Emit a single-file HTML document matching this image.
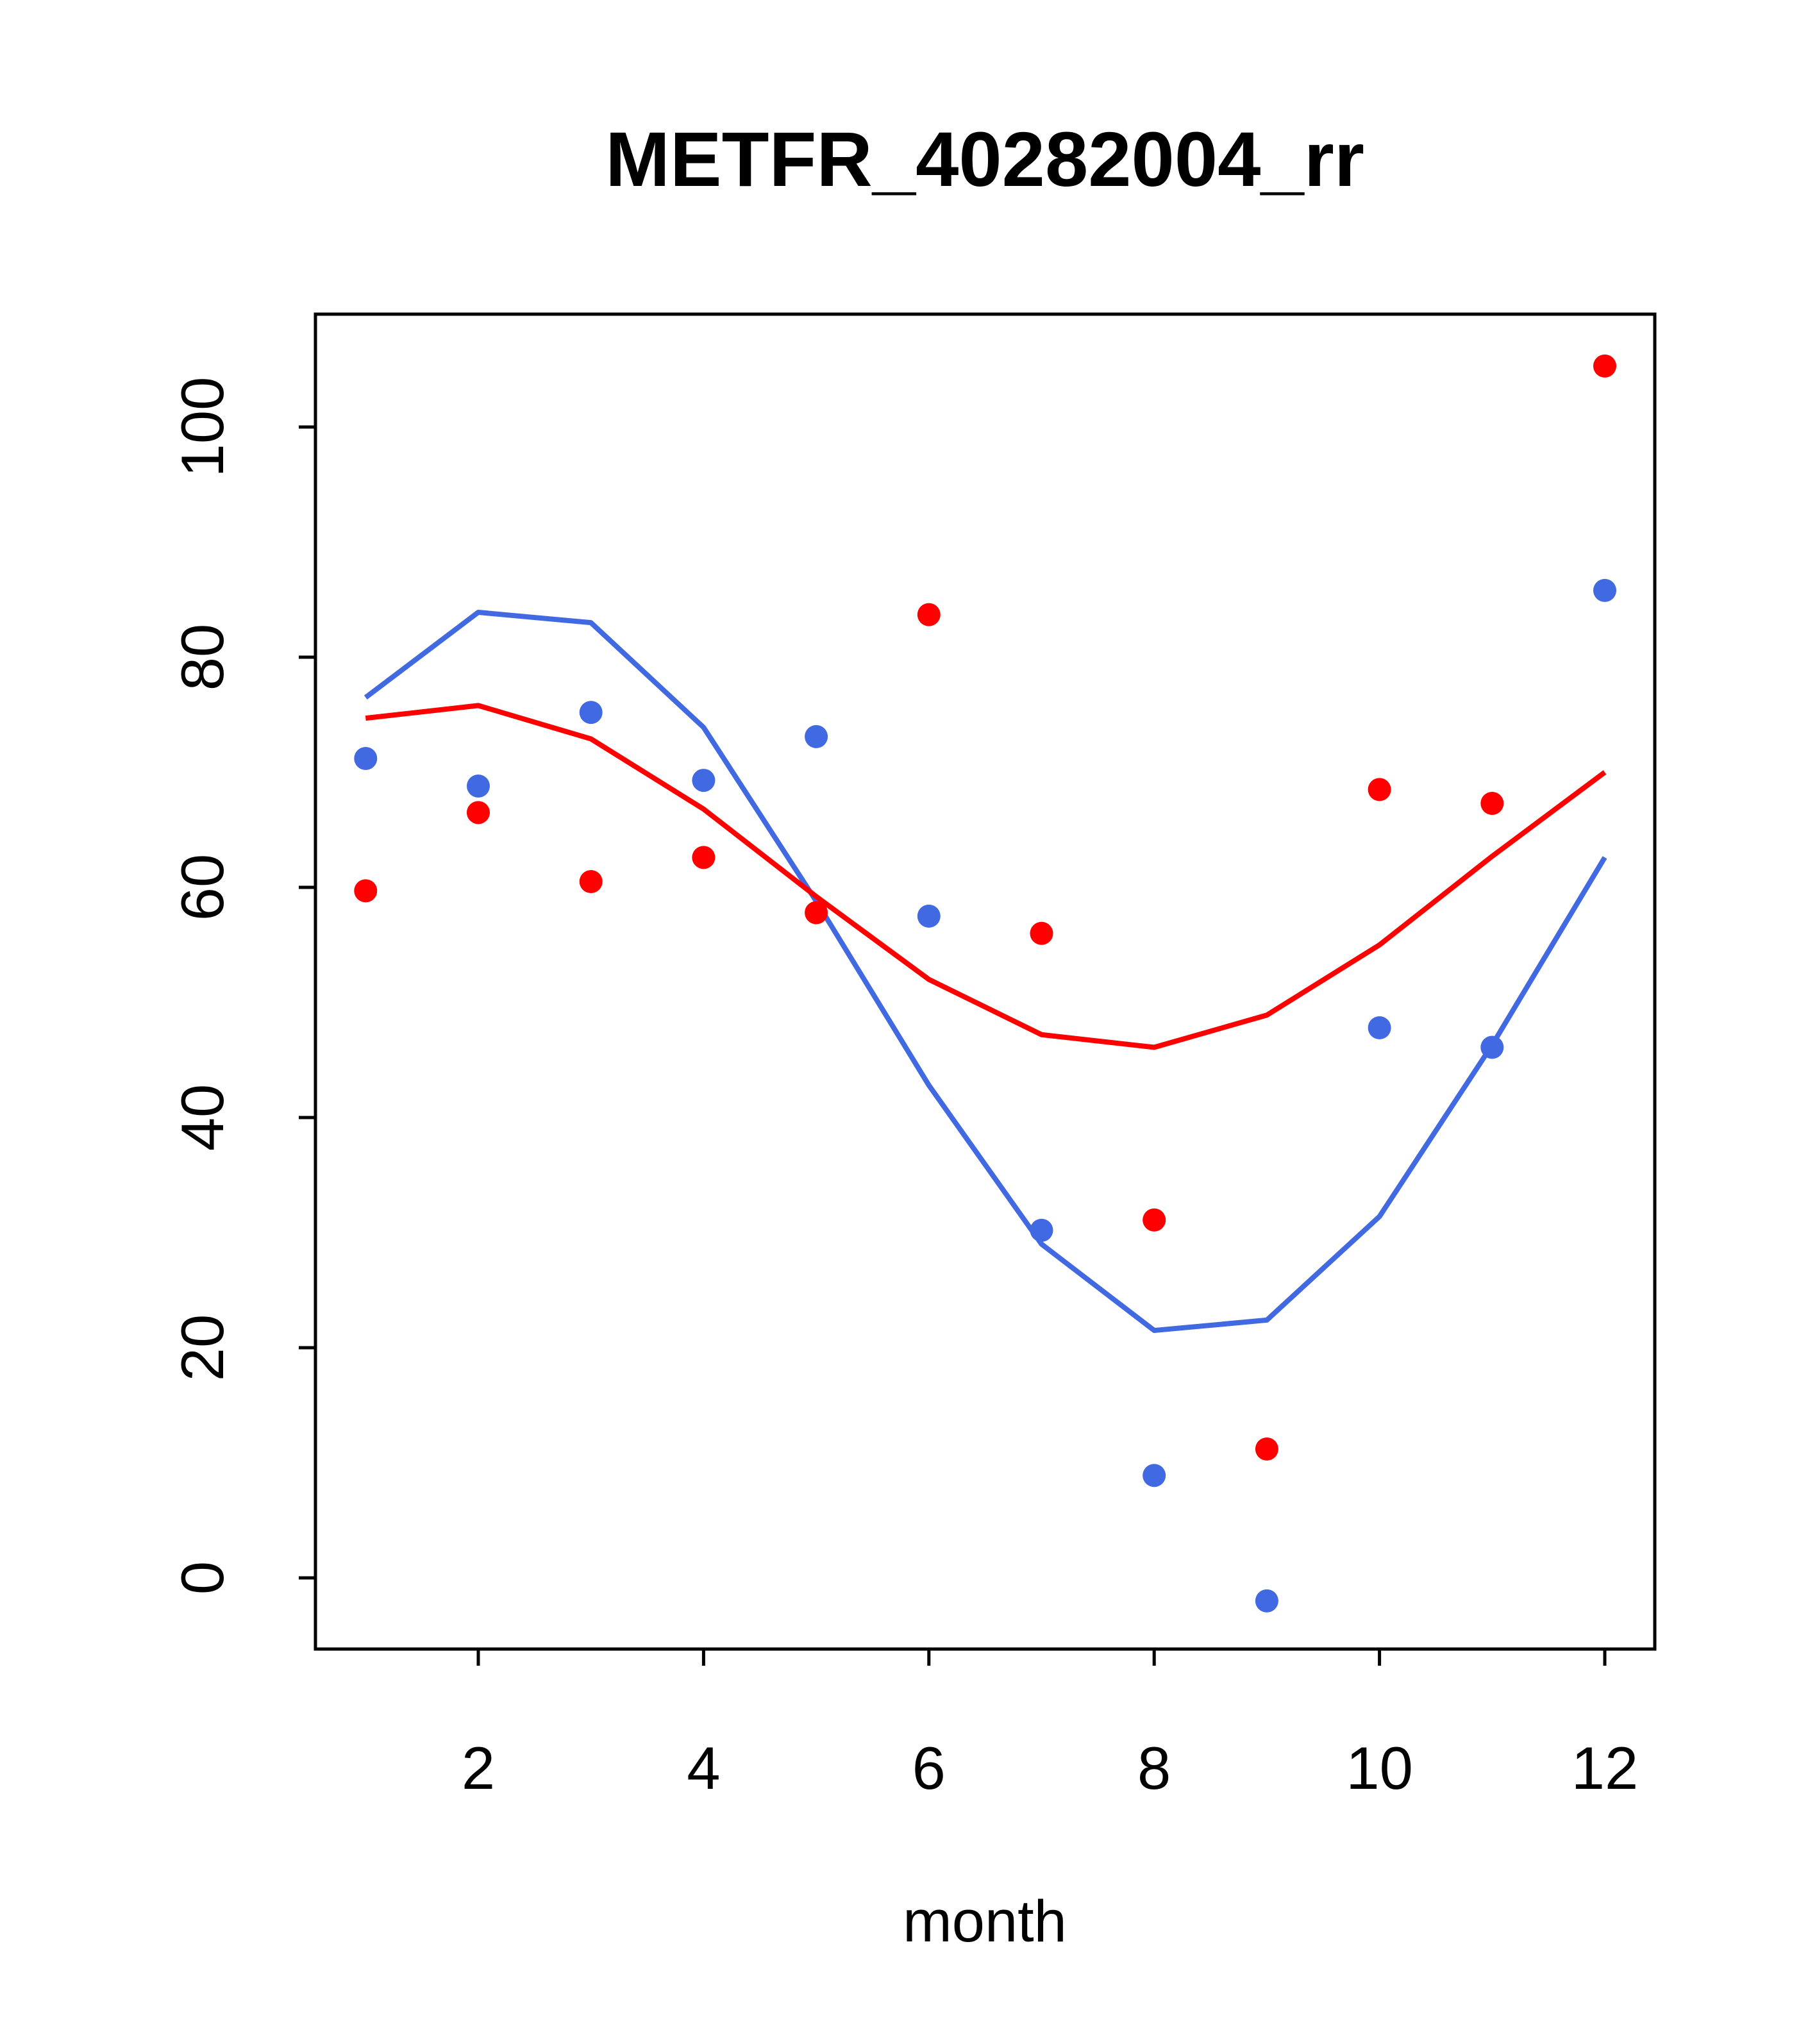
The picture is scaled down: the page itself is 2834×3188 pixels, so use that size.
<!DOCTYPE html>
<html><head><meta charset="utf-8"><style>html,body{margin:0;padding:0;background:#fff}svg{display:block}</style></head>
<body>
<svg id="chart" width="2834" height="3188" xmlns="http://www.w3.org/2000/svg" font-family="Liberation Sans, sans-serif">
<rect width="2834" height="3188" fill="#fff"/>
<text x="1536" y="290" font-size="121" font-weight="bold" text-anchor="middle">METFR_40282004_rr</text>
<rect x="492" y="490" width="2089" height="2082" fill="none" stroke="#000" stroke-width="5"/>
<text x="1536" y="3028" font-size="92" text-anchor="middle">month</text>
<g id="xaxis"></g>
<g id="yaxis"></g>
<g id="series"></g>
</svg>
<script>
const months=[1,2,3,4,5,6,7,8,9,10,11,12];
const redPoints=[59.7,66.5,60.5,62.6,57.8,83.7,56.0,31.1,11.2,68.5,67.3,105.3];
const bluePoints=[71.2,68.8,75.2,69.3,73.1,57.5,30.2,8.9,-2.0,47.8,46.1,85.8];
const redLine=[74.7,75.8,72.9,66.8,59.2,52.0,47.2,46.1,48.9,55.0,62.7,70.0];
const blueLine=[76.5,83.9,83.0,73.9,58.8,42.8,29.0,21.5,22.4,31.4,46.3,62.6];
const xTicks=[2,4,6,8,10,12];
const yTicks=[0,20,40,60,80,100];

const NS="http://www.w3.org/2000/svg";
function X(m){return 746+(m-2)*(2503-746)/10;}
function Y(v){return 2461-v*(2461-666)/100;}
function mk(tag,attrs,parent){const e=document.createElementNS(NS,tag);for(const k in attrs)e.setAttribute(k,attrs[k]);parent.appendChild(e);return e;}
const xa=document.getElementById('xaxis'),ya=document.getElementById('yaxis'),sg=document.getElementById('series');
mk('line',{x1:X(2),x2:X(12),y1:2572,y2:2572,stroke:'#000','stroke-width':5},xa);
xTicks.forEach(t=>{
  const l=mk('line',{x1:X(t),x2:X(t),y1:2572,y2:2598,stroke:'#000','stroke-width':5},xa);
  
  
  const tx=mk('text',{x:X(t),y:2790,'font-size':94,'text-anchor':'middle'},xa);
  tx.textContent=t;
  
  
});
yTicks.forEach(t=>{
  const l=mk('line',{x1:466,x2:492,y1:Y(t),y2:Y(t),stroke:'#000','stroke-width':5},ya);
  
  
  const tx=mk('text',{x:348,y:Y(t),'font-size':94,'text-anchor':'middle',transform:`rotate(-90 348 ${Y(t)})`},ya);
  tx.textContent=t;
  
  
});
function line(vals,color,name){
  const p=mk('polyline',{points:vals.map((v,i)=>X(months[i])+','+Y(v)).join(' '),fill:'none',stroke:color,'stroke-width':8,'stroke-linejoin':'round'},sg);
  
  
}
function pts(vals,color,name){
  vals.forEach((v,i)=>{
    const c=mk('circle',{cx:X(months[i]),cy:Y(v),r:18,fill:color},sg);
    
    
  });
}
line(blueLine,'#4169e1','blue-line');
line(redLine,'#ff0000','red-line');
pts(bluePoints,'#4169e1','blue-point');
pts(redPoints,'#ff0000','red-point');
</script>
</body></html>
